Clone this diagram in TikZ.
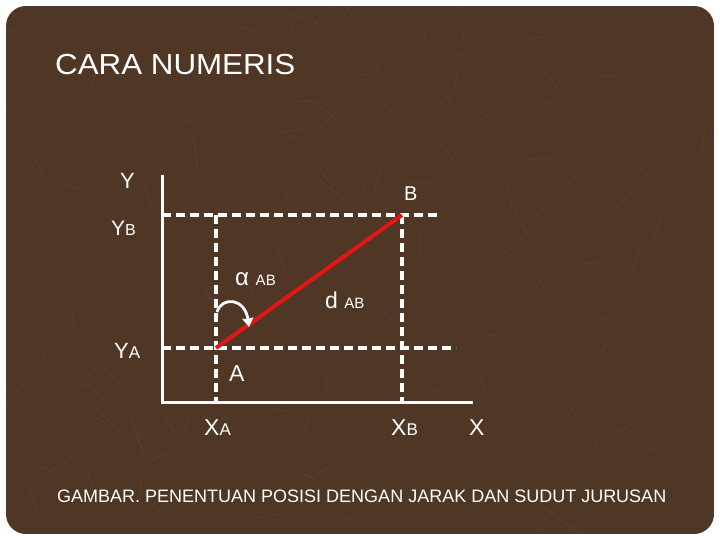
\documentclass[tikz,border=0pt]{standalone}
\usepackage{fontspec}
\setmainfont{Liberation Sans}
\usetikzlibrary{arrows.meta}
\definecolor{marble}{RGB}{80,55,37}
\definecolor{marbleLight}{RGB}{150,115,85}
\definecolor{redline}{RGB}{230,20,20}
\tikzset{
  lbl/.style={anchor=base west, inner sep=0pt, text=white},
  axis/.style={white, line width=3pt},
  guide/.style={white, line width=3.2pt, dash pattern=on 9pt off 5pt},
}
\begin{document}
\begin{tikzpicture}[x=1pt,y=-1pt]
\useasboundingbox (0,0) rectangle (720,540);
\fill[white] (0,0) rectangle (720,540);
\begin{scope}
\clip[rounded corners=20pt] (6,6) rectangle (714,534);
\fill[marble] (6,6) rectangle (714,534);
\pgfmathsetseed{7}
\foreach \i in {1,...,140}{
  \pgfmathsetmacro{\px}{6+rnd*708}
  \pgfmathsetmacro{\py}{6+rnd*528}
  \pgfmathsetmacro{\dx}{(rnd-0.5)*70}
  \pgfmathsetmacro{\dy}{(rnd-0.5)*70}
  \draw[marbleLight, opacity=0.1, line width=1pt] (\px,\py) -- ++(\dx,\dy);
}
\end{scope}
% coordinates
\coordinate (A) at (216,348);
\coordinate (B) at (402,215);
\coordinate (O) at (162,402);
\coordinate (Ytop) at (162,175);
\coordinate (Xend) at (473,402);
\coordinate (YBl) at (162,215);
\coordinate (YBr) at (440,215);
\coordinate (YAl) at (162,348);
\coordinate (YAr) at (456,348);
\coordinate (XAb) at (216,402);
\coordinate (XAt) at (216,215);
\coordinate (XBb) at (402,404);
\coordinate (arcS) at (217,312);
\coordinate (arcE) at (249,327);
% axes
\draw[axis] (Ytop) -- (O) -- (Xend);
% dashed guides
\draw[guide] (YBl) -- (YBr);
\draw[guide] (YAl) -- (YAr);
\draw[guide] (XAt) -- (XAb);
\draw[guide] (B) -- (XBb);
% red line
\draw[redline, line width=4pt] (A) -- (B);
% angle arrow
\draw[white, line width=2.8pt, -{Stealth[length=9pt,width=11pt,inset=1pt]}] (arcS) .. controls (222,296) and (245,298) .. (arcE);
% labels
\node[lbl, font=\fontsize{29}{30}\selectfont, xscale=1.08] (title) at (55,75) {CARA NUMERIS};
\node[lbl, font=\fontsize{22}{23}\selectfont] (ly) at (120,189) {Y};
\node[lbl, font=\fontsize{20}{21}\selectfont] (lb) at (404,201) {B};
\node[lbl, font=\fontsize{21}{22}\selectfont] (lyb) at (111,236) {Y{\fontsize{16}{17}\selectfont B}};
\node[lbl, font=\fontsize{24}{25}\selectfont] (lalpha) at (235,285) {α {\fontsize{15}{16}\selectfont AB}};
\node[lbl, font=\fontsize{23}{24}\selectfont] (ld) at (325,308) {d {\fontsize{15}{16}\selectfont AB}};
\node[lbl, font=\fontsize{22}{23}\selectfont] (lya) at (114,358) {Y{\fontsize{17}{18}\selectfont A}};
\node[lbl, font=\fontsize{23}{24}\selectfont] (la) at (229,381) {A};
\node[lbl, font=\fontsize{23}{24}\selectfont] (lxa) at (204,435) {X{\fontsize{17}{18}\selectfont A}};
\node[lbl, font=\fontsize{23}{24}\selectfont] (lxb) at (391,435) {X{\fontsize{17}{18}\selectfont B}};
\node[lbl, font=\fontsize{23}{24}\selectfont] (lx) at (469,435) {X};
\node[lbl, font=\fontsize{18}{19}\selectfont] (cap) at (57,502) {GAMBAR. PENENTUAN POSISI DENGAN JARAK DAN SUDUT JURUSAN};
\end{tikzpicture}
\end{document}
